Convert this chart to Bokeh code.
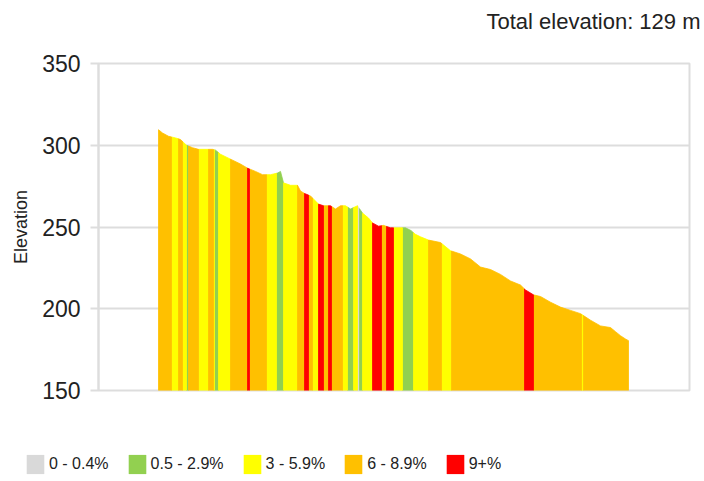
import numpy as np
from bokeh.plotting import figure
from bokeh.layouts import column
from bokeh.models import Range1d, Legend, LegendItem, FixedTicker
from bokeh.embed import file_html
from bokeh.resources import INLINE

# ---- data ----
dist_km = [0.00, 0.04, 0.10, 0.17, 0.22, 0.28, 0.34, 0.40, 0.54, 0.57,
           0.62, 0.72, 0.82, 0.89, 0.97, 1.04, 1.12, 1.19, 1.22, 1.25,
           1.32, 1.39, 1.42, 1.46, 1.52, 1.60, 1.65, 1.72, 1.77, 1.82,
           1.87, 1.92, 1.99, 2.04, 2.10, 2.14, 2.20, 2.25, 2.32, 2.47,
           2.52, 2.57, 2.62, 2.70, 2.82, 2.92, 3.02, 3.12, 3.22, 3.32,
           3.42, 3.52, 3.62, 3.67, 3.75, 3.82, 3.92, 4.02, 4.12, 4.22,
           4.32, 4.42, 4.52, 4.57, 4.62, 4.67, 4.70]
elevation_m = [309.5, 307.5, 305.5, 304.5, 303.5, 300, 298.5, 297.5, 297.5, 297,
               294.5, 291.5, 288.5, 286, 284, 282, 282, 283, 284, 277,
               275.5, 275.5, 272, 270.5, 269, 264, 263, 263, 261, 263,
               263, 261, 263, 258.5, 255.5, 252.5, 250.5, 251, 249.5, 249.5,
               248, 245.5, 244, 242, 240.5, 235.5, 233.5, 230.5, 225.5, 224,
               221, 217, 214.5, 211.5, 208.5, 207.5, 204, 201, 199, 197,
               193, 189.5, 188.5, 186, 183.5, 181.5, 180.5]

band_edges_km = [0.00, 0.13, 0.20, 0.24, 0.28, 0.30, 0.40, 0.50, 0.55, 0.56,
                 0.60, 0.72, 0.89, 0.91, 1.08, 1.18, 1.25, 1.39, 1.46, 1.50,
                 1.54, 1.60, 1.65, 1.70, 1.73, 1.84, 1.89, 1.95, 1.99, 2.01,
                 2.04, 2.14, 2.23, 2.28, 2.35, 2.44, 2.55, 2.70, 2.83, 2.93,
                 3.66, 3.75, 4.23, 4.25, 4.70]
band_class = [3, 2, 3, 2, 1, 3, 2, 3, 2, 1,
              2, 3, 4, 3, 2, 1, 2, 3, 4, 3,
              2, 4, 3, 4, 3, 2, 1, 2, 0, 1,
              2, 4, 3, 4, 2, 1, 2, 3, 2, 3,
              4, 3, 2, 3]

class_labels = ["0 - 0.4%", "0.5 - 2.9%", "3 - 5.9%", "6 - 8.9%", "9+%"]
class_colors = ["#d9d9d9", "#92d050", "#ffff00", "#ffc000", "#ff0000"]
y_ticks = [150, 200, 250, 300, 350]
title_text = "Total elevation: 129 m"

FONT = "Liberation Sans"
TXT = "#222222"
GRID = "#dddddd"

p = figure(width=700, height=430, output_backend="svg", toolbar_location=None,
           x_range=Range1d(-0.60, 5.31), y_range=Range1d(150, 350),
           min_border_left=98, min_border_right=11, min_border_top=63,
           min_border_bottom=40)
p.background_fill_color = "white"
p.border_fill_color = "white"
p.outline_line_color = GRID
p.outline_line_width = 2

p.title.text = title_text + "\n"
p.title.align = "right"
p.title.offset = -11
p.title.text_font = FONT
p.title.text_font_size = "22px"
p.title.text_font_style = "normal"
p.title.text_color = TXT

p.xaxis.visible = False
p.xgrid.visible = False
p.ygrid.ticker = FixedTicker(ticks=y_ticks)
p.ygrid.grid_line_color = GRID
p.ygrid.grid_line_width = 2

yax = p.yaxis[0]
yax.ticker = FixedTicker(ticks=y_ticks)
yax.axis_line_color = GRID
yax.axis_line_width = 2
yax.major_tick_line_color = GRID
yax.major_tick_line_width = 2
yax.major_tick_out = 8
yax.major_tick_in = 0
yax.minor_tick_line_color = None
yax.major_label_standoff = 10
yax.major_label_text_font = FONT
yax.major_label_text_font_size = "23px"
yax.major_label_text_color = TXT
yax.axis_label = "Elevation"
yax.axis_label_text_font = FONT
yax.axis_label_text_font_size = "18px"
yax.axis_label_text_font_style = "normal"
yax.axis_label_text_color = TXT
yax.axis_label_standoff = 8

dist = np.array(dist_km)
elev = np.array(elevation_m)
base = y_ticks[0]

for c in range(len(class_labels)):
    xs, ys = [], []
    for i, k in enumerate(band_class):
        if k != c:
            continue
        a, b = band_edges_km[i], band_edges_km[i + 1]
        inner = dist[(dist > a) & (dist < b)]
        px = [a, a] + list(inner) + [b, b]
        py = [base, float(np.interp(a, dist, elev))] + list(np.interp(inner, dist, elev)) + \
             [float(np.interp(b, dist, elev)), base]
        xs.append(px)
        ys.append(py)
    p.patches(xs, ys, fill_color=class_colors[c], line_color=class_colors[c], line_width=0.8)

# ---- legend strip ----
lg = figure(width=700, height=48, output_backend="svg", toolbar_location=None,
            x_range=Range1d(0, 1), y_range=Range1d(0, 1),
            min_border_left=0, min_border_right=0, min_border_top=0, min_border_bottom=0)
lg.axis.visible = False
lg.grid.visible = False
lg.outline_line_color = None
lg.background_fill_color = "white"
lg.border_fill_color = "white"
for fig in (p, lg):
    if "frame_align" in fig.properties():
        fig.frame_align = False
items = []
for c in range(len(class_labels)):
    r = lg.rect(x=[-10], y=[-10], width=0.1, height=0.1, fill_color=class_colors[c], line_color=None)
    items.append(LegendItem(label=class_labels[c], renderers=[r]))
legend = Legend(items=items, orientation="horizontal", location=(24, 2))
legend.glyph_width = 22
legend.glyph_height = 24
legend.label_standoff = 3
legend.spacing = 17
legend.padding = 0
legend.margin = 0
legend.border_line_color = None
legend.background_fill_alpha = 0
legend.label_text_font = FONT
legend.label_text_font_size = "16px"
legend.label_text_color = TXT
legend.label_height = 24
lg.add_layout(legend, "center")

open("out.html", "w").write(file_html(column(p, lg, spacing=0), INLINE))
